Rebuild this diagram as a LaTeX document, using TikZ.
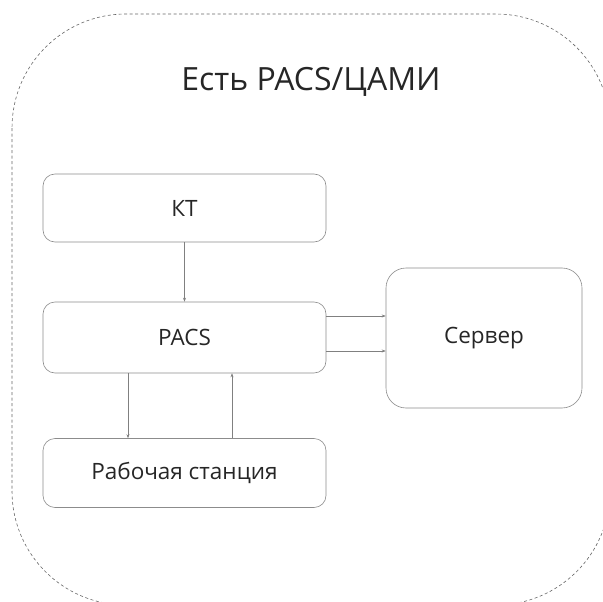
\documentclass[tikz,border=0pt]{standalone}
\usepackage{fontspec}
\setmainfont{Open Sans}
\usetikzlibrary{arrows.meta}
\begin{document}
\begin{tikzpicture}[x=1pt,y=-1pt,
    box/.style={draw=black!45, line width=0.6pt, rounded corners=12pt, inner sep=0pt,
        minimum width=283pt, font=\fontsize{22.5}{26}\selectfont, text=black!85},
    link/.style={draw=black!50, line width=0.5pt, -{Stealth[length=4pt,width=3pt]}}]
        \useasboundingbox (0,0) rectangle (603,602);

        %%%%%%%% Contorno %%%%%%%%
        \draw[black!60, line width=0.6pt, dash pattern=on 3pt off 2.5pt, rounded corners=114pt]
            (12,14) rectangle (610,605);
        \node[font=\fontsize{32}{38}\selectfont, text=black!85] (titolo) at (311,82) {Есть PACS/ЦАМИ};

        %%%%%%%%% Blocchi %%%%%%%%
        \node[box, minimum height=68pt] (kt) at (184.5,208) {КТ};
        \node[box, minimum height=71pt] (pacs) at (184.5,337.5) {PACS};
        \node[box, minimum height=69pt] (ws) at (184.5,473) {Рабочая станция};
        \node[box, minimum width=196pt, minimum height=140pt, rounded corners=20pt] (server) at (484,338) {Сервер};

        %%%%%%%%% Frecce %%%%%%%%%
        \draw[link] (kt.south) -- (pacs.north);
        \coordinate (s1) at ([yshift=21.5pt]pacs.east);
        \coordinate (s2) at ([yshift=-13.5pt]pacs.east);
        \draw[link] (s1) -- (s1 -| server.west);
        \draw[link] (s2) -- (s2 -| server.west);
        \coordinate (w1) at ([xshift=-56.5pt]pacs.south);
        \coordinate (w2) at ([xshift=47.5pt]ws.north);
        \draw[link] (w1) -- (w1 |- ws.north);
        \draw[link] (w2) -- (w2 |- pacs.south);
    \end{tikzpicture}
\end{document}
